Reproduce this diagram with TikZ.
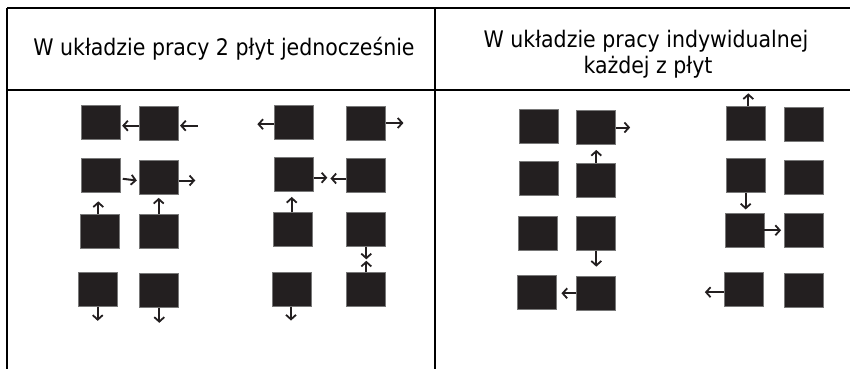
\documentclass[tikz,border=0pt]{standalone}
\usepackage{fontspec}
\setmainfont{DejaVu Sans Condensed}
\usetikzlibrary{arrows.meta}
\definecolor{ink}{RGB}{35,31,32}
\definecolor{edge}{RGB}{120,120,120}
\tikzset{
  sq/.style={draw=edge,line width=0.7pt,fill=ink,minimum width=39pt,minimum height=34pt,inner sep=0pt},
  arr/.style={draw=ink,line width=2pt,-{Straight Barb[length=4.5pt,width=10pt,line width=1.8pt]}},
  rule/.style={line width=2.5pt,black},
  hdr/.style={font=\fontsize{22.8}{27}\selectfont,inner sep=0pt}
}
\begin{document}
\begin{tikzpicture}[x=1pt,y=-1pt]
\useasboundingbox (0,0) rectangle (854,369);
% table rules
\draw[rule] (7,8) -- (850,8);
\draw[rule] (7,90) -- (850,90);
\draw[rule] (7,8) -- (7,369);
\draw[rule] (435,8) -- (435,369);
% headers
\node[hdr,anchor=base] (h1) at (224,56) {W układzie pracy 2 płyt jednocześnie};
\node[hdr,anchor=base] (h2) at (646,48) {W układzie pracy indywidualnej};
\node[hdr,anchor=base] (h3) at (648,74) {każdej z płyt};
% left panel, group 1
\node[sq] (A) at (100.5,122.7) {};
\node[sq] (B) at (158.7,123.7) {};
\node[sq] (C) at (100.5,175.8) {};
\node[sq] (D) at (158.7,177.5) {};
\node[sq] (E) at (99.5,231.2) {};
\node[sq] (F) at (158.7,231.2) {};
\node[sq] (G) at (98.3,289.5) {};
\node[sq] (H) at (158.7,290.5) {};
% left panel, group 2
\node[sq] (I) at (294.2,122.2) {};
\node[sq] (J) at (366.3,123) {};
\node[sq] (K) at (294.2,174.7) {};
\node[sq] (L) at (366.3,175.5) {};
\node[sq] (M) at (293,229.7) {};
\node[sq] (N) at (366.3,229.7) {};
\node[sq] (P) at (292.2,289.2) {};
\node[sq] (O) at (366.3,289.7) {};
% right panel, group 1
\node[sq] (Q) at (539,126.3) {};
\node[sq] (R) at (596.3,127.5) {};
\node[sq] (S) at (539,178.8) {};
\node[sq] (T) at (596.3,180) {};
\node[sq] (U) at (537.8,233.3) {};
\node[sq] (V) at (596.3,233.3) {};
\node[sq] (W) at (537,292) {};
\node[sq] (X) at (596.3,293.3) {};
% right panel, group 2
\node[sq] (Y) at (745.7,123) {};
\node[sq] (Z) at (803.8,124.2) {};
\node[sq] (AA) at (745.7,175.5) {};
\node[sq] (AB) at (803.8,177) {};
\node[sq] (AC) at (744.5,230.3) {};
\node[sq] (AD) at (803.8,230.3) {};
\node[sq] (AE) at (743.7,289.2) {};
\node[sq] (AF) at (803.8,290.3) {};
% arrows, left group 1
\draw[arr] ([yshift=-2pt]B.west) -- ++(-16.7,0);
\coordinate (bin) at ([xshift=19pt,yshift=-2pt]B.east);
\draw[arr] (bin) -- ([xshift=1.5pt,yshift=-2pt]B.east);
\draw[arr] ([xshift=2.4pt,yshift=-3pt]C.east) -- ([xshift=-2pt,yshift=-3pt]D.west);
\draw[arr] ([yshift=-3pt]D.east) -- ++(16.7,0);
\draw[arr] ([xshift=-1.2pt]E.north) -- ++(0,-12.5);
\draw[arr] (F.north) -- ++(0,-16);
\draw[arr] ([xshift=-0.6pt]G.south) -- ++(0,14);
\draw[arr] ([xshift=0.6pt]H.south) -- ++(0,15);
% arrows, left group 2
\draw[arr] ([yshift=-2pt]I.west) -- ++(-17,0);
\draw[arr] (J.east) -- ++(17.3,0);
\draw[arr] ([yshift=-3pt]K.east) -- ++(13.3,0);
\draw[arr] ([yshift=-3pt]L.west) -- ++(-16,0);
\draw[arr] ([xshift=-1.3pt]M.north) -- ++(0,-15.4);
\draw[arr] (N.south) -- ++(0,12.3);
\draw[arr] (O.north) -- ++(0,-11.6);
\draw[arr] ([xshift=-1.2pt]P.south) -- ++(0,14);
% arrows, right group 1
\draw[arr] (R.east) -- ++(14,0);
\draw[arr] (T.north) -- ++(0,-12.7);
\draw[arr] (V.south) -- ++(0,16);
\draw[arr] (X.west) -- ++(-15,0);
% arrows, right group 2
\draw[arr] ([xshift=2.6pt]Y.north) -- ++(0,-12.3);
\draw[arr] (AA.south) -- ++(0,16.6);
\draw[arr] (AC.east) -- ++(16.7,0);
\draw[arr] ([yshift=-3pt]AE.west) -- ++(-19,0);
\end{tikzpicture}
\end{document}
